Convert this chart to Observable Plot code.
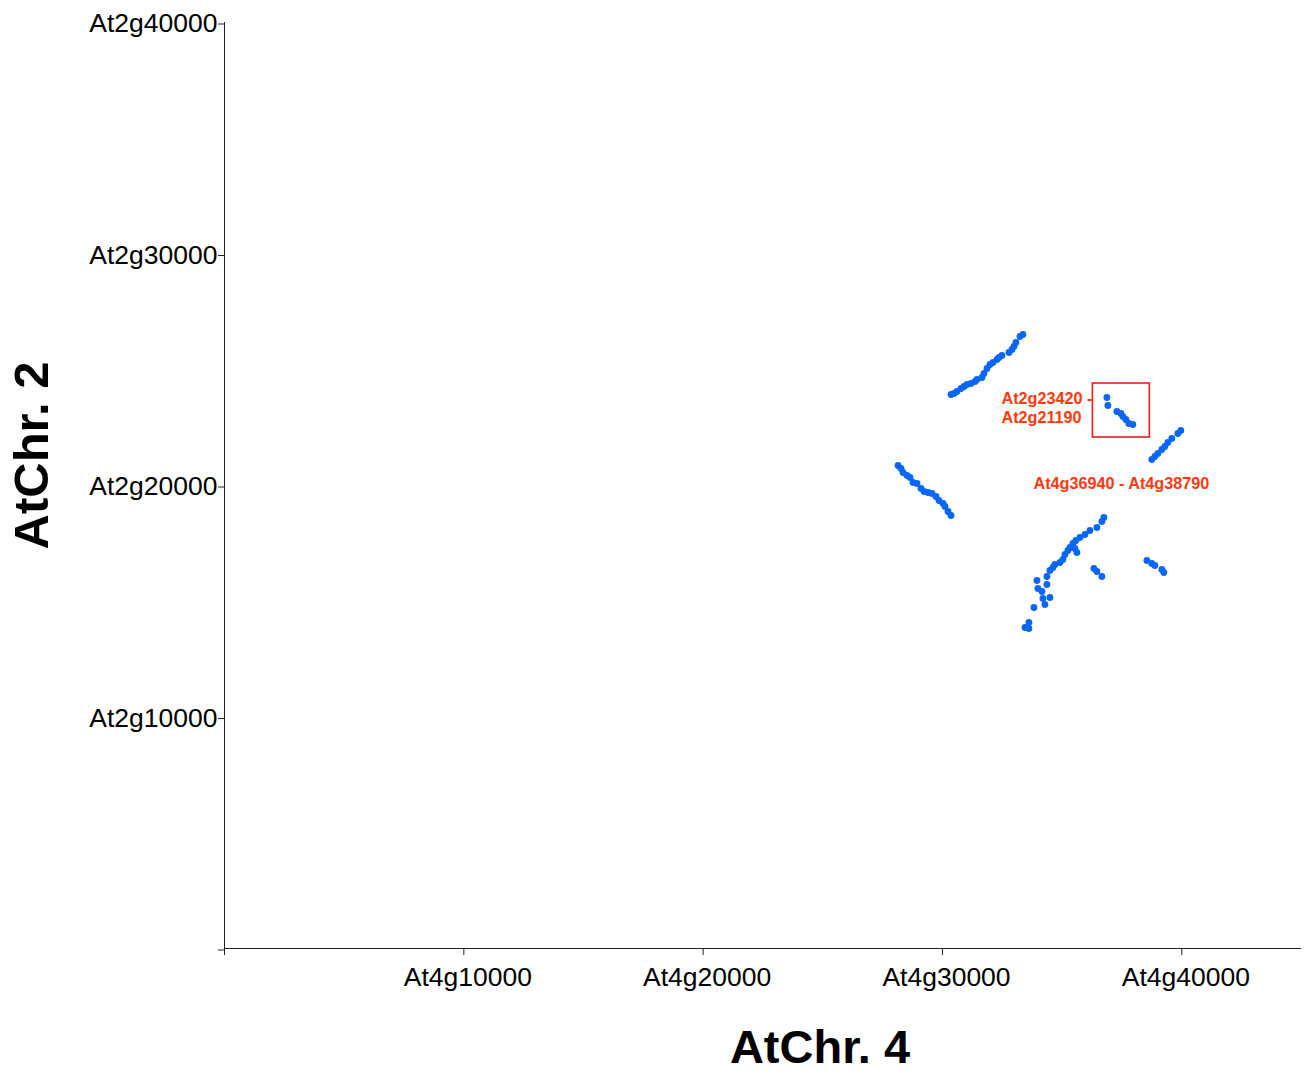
<!DOCTYPE html>
<html>
<head>
<meta charset="utf-8">
<script src="https://cdn.jsdelivr.net/npm/d3@7"></script>
<script src="https://cdn.jsdelivr.net/npm/@observablehq/plot@0.6"></script>
<style>
  html, body { margin: 0; padding: 0; background: #fff; }
  #chart svg { display: block; }
</style>
</head>
<body>
<div id="chart"></div>
<script>
// AtChr. 4 position (x) vs AtChr. 2 position (y), gene index numbers
const clusterA_x = [30355,30480,30605,30772,30898,31023,31190,31357,31441,31649,31733,31858,31983,32109,32276,32359,32484,32777,32902,32985,33069,33236,33361];
const clusterA_y = [23931,23974,24060,24190,24276,24363,24406,24492,24579,24665,24838,25054,25227,25313,25443,25529,25616,25745,25875,26004,26177,26436,26523];

const clusterB_x = [28142,28267,28351,28518,28643,28768,28935,29102,29228,29395,29562,29729,29854,30021,30104,30230,30355];
const clusterB_y = [20864,20734,20562,20432,20346,20130,20086,19870,19741,19698,19654,19525,19352,19222,19093,18877,18704];

const clusterC_x = [36868,36910,37286,37453,37537,37662,37787,37954];
const clusterC_y = [23801,23456,23197,23110,22981,22851,22678,22635];

const clusterD_x = [38747,38873,38998,39165,39290,39415,39582,39833,39958];
const clusterD_y = [21123,21253,21382,21555,21685,21857,22030,22246,22376];

const clusterE_x = [36743,36660,36451,36159,35950,35741,35574,35449,35324,35240,35115,35031,34906,34697,34614,34489,34363,35616,35532,33946,34363,33987,34154,34196,34489,34280,33820,33612,33445,33612,36326,36451,36660,38539,38747,38873,39165,39248];
const clusterE_y = [18618,18445,18186,18056,17883,17754,17624,17495,17322,17192,17019,16803,16674,16587,16458,16328,16069,17106,17279,15896,15724,15551,15421,15119,15162,14860,14730,14082,13866,13823,16415,16285,16069,16760,16631,16544,16371,16242];

const xTicks = [0, 10000, 20000, 30000, 40000];
const yTicks = [0, 10000, 20000, 30000, 40000];

// highlighted region (gene index range)
const boxX = [36284, 38664];
const boxY = [22073, 24406];

const annotationText = ["At2g23420 -", "At2g21190", "At4g36940 - At4g38790"];
const annotationX = [32466, 32466, 33802];
const annotationY = [23758, 22937, 20086];

const points = [];
[[clusterA_x, clusterA_y], [clusterB_x, clusterB_y], [clusterC_x, clusterC_y],
 [clusterD_x, clusterD_y], [clusterE_x, clusterE_y]].forEach(([xs, ys]) => {
  xs.forEach((x, i) => points.push({x, y: ys[i]}));
});
const annotations = annotationText.map((t, i) => ({text: t, x: annotationX[i], y: annotationY[i]}));

const font = "'Liberation Sans', Arial, Helvetica, sans-serif";

const chart = Plot.plot({
  width: 1307,
  height: 1072,
  marginLeft: 224,
  marginRight: 6,
  marginTop: 22,
  marginBottom: 124,
  style: {fontFamily: font, background: "#fff", color: "#000"},
  x: {domain: [0, 45000]},
  y: {domain: [0, 40000]},
  marks: [
    Plot.ruleY([0], {stroke: "#222", strokeWidth: 1}),
    Plot.ruleX([0], {y1: 0, y2: 40000, stroke: "#222", strokeWidth: 1}),
    // x tick marks
    Plot.axisX({ticks: xTicks, tickSize: 7, tickFormat: () => "", label: null, stroke: "#222"}),
    // x tick labels (slightly offset to the right, as in the reference)
    Plot.axisX({ticks: xTicks, tickSize: 0, tickPadding: 19, fontSize: 26.5, dx: 4,
      tickFormat: d => d === 0 ? "" : "At4g" + d, label: null}),
    Plot.axisY({ticks: yTicks, tickSize: 6, tickPadding: 1, fontSize: 26.5, dy: 1.5,
      tickFormat: d => d === 0 ? "" : "At2g" + d, label: null, stroke: "#222"}),
    Plot.dot(points, {x: "x", y: "y", r: 3.4, fill: "#0a66f7", stroke: "none"}),
    Plot.rect([{x1: boxX[0], x2: boxX[1], y1: boxY[0], y2: boxY[1]}],
      {x1: "x1", x2: "x2", y1: "y1", y2: "y2", fill: "none", stroke: "#ee1c1c", strokeWidth: 1.6}),
    Plot.text(annotations, {x: "x", y: "y", text: "text", textAnchor: "start",
      fill: "#ff3a10", fontSize: 16.2, fontWeight: "bold", lineAnchor: "middle"}),
    Plot.text(["AtChr. 4"], {frameAnchor: "bottom", lineAnchor: "middle", textAnchor: "middle", dy: 99,
      dx: 57, fontSize: 47, fontWeight: "bold", fill: "#000"}),
    Plot.text(["AtChr. 2"], {frameAnchor: "left", lineAnchor: "middle", textAnchor: "middle", rotate: -90,
      dx: -192, dy: -30, fontSize: 49, fontWeight: "bold", fill: "#000"})
  ]
});

document.getElementById("chart").appendChild(chart);
</script>
</body>
</html>
